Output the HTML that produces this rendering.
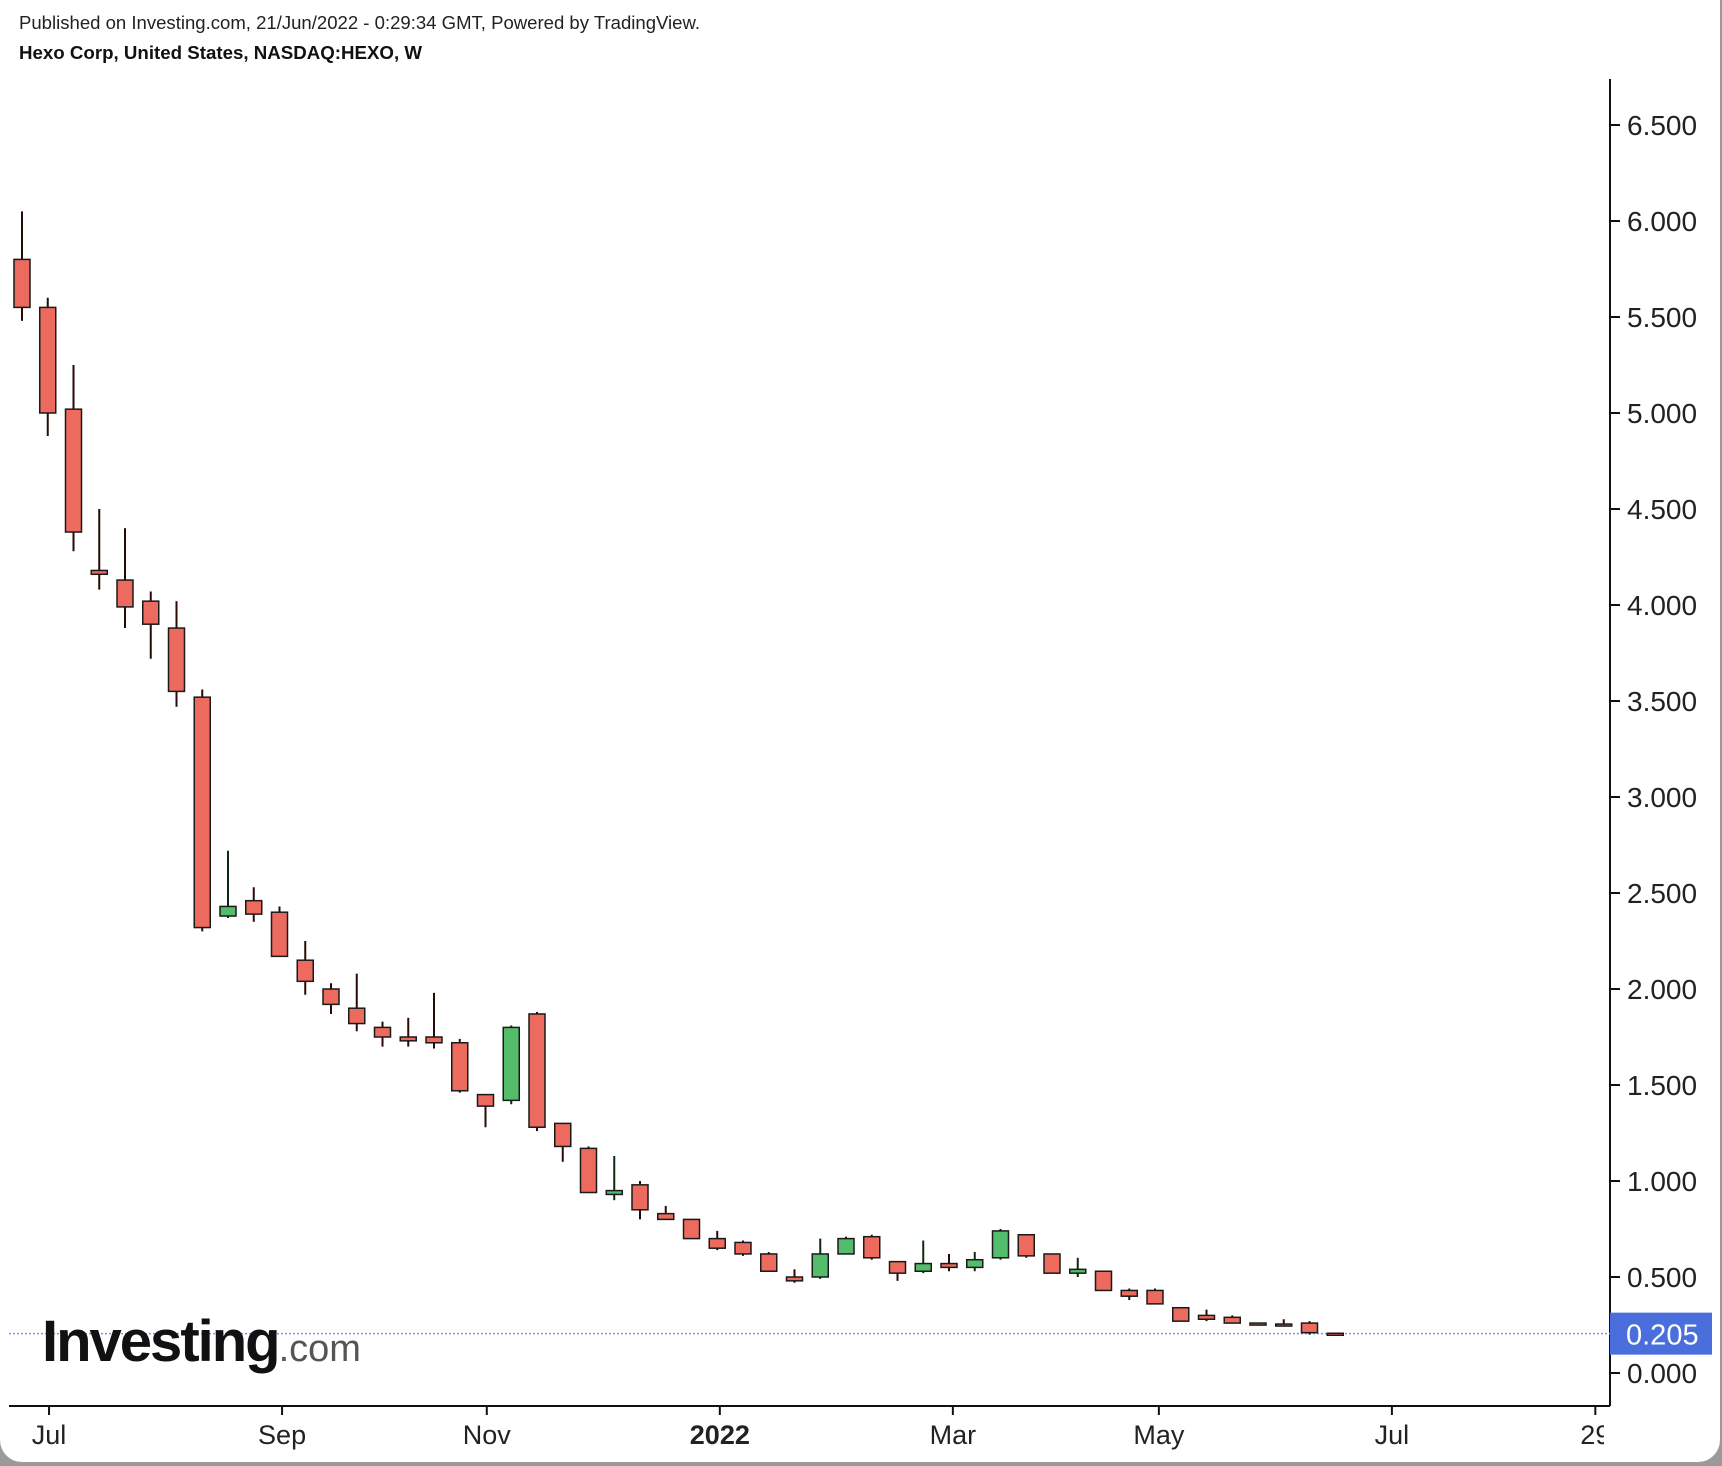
<!DOCTYPE html>
<html><head><meta charset="utf-8"><style>
html,body{margin:0;padding:0;background:#8a8a8a;}
#wrap{position:relative;width:1722px;height:1466px;overflow:hidden;background:#9a9a9a;}
#card{position:absolute;left:0;top:0;width:1720px;height:1462px;background:#fff;border-radius:0 0 22px 22px;}
svg text{font-family:"Liberation Sans",sans-serif;}
</style></head><body>
<div id="wrap">
<div id="card">
<svg id="chart" width="1722" height="1466">
<defs><clipPath id="xclip" clipPathUnits="userSpaceOnUse"><rect x="0" y="1406" width="1604" height="60"/></clipPath></defs>
<text x="19" y="29" font-size="18" fill="#222" textLength="681" lengthAdjust="spacingAndGlyphs">Published on Investing.com, 21/Jun/2022 - 0:29:34 GMT, Powered by TradingView.</text>
<text x="19" y="59" font-size="18" font-weight="bold" fill="#111" textLength="403" lengthAdjust="spacingAndGlyphs">Hexo Corp, United States, NASDAQ:HEXO, W</text>
<g id="marks"></g>
<g clip-path="url(#xclip)" id="xlabels"></g>
<text x="42" y="1361" font-size="58" font-weight="bold" fill="#111" letter-spacing="-2">Investing<tspan font-size="38" font-weight="normal" fill="#555" letter-spacing="0">.com</tspan></text>
</svg>
</div></div>
<script>
const tickValues=[0,0.5,1,1.5,2,2.5,3,3.5,4,4.5,5,5.5,6,6.5];
const tickLabels=["0.000","0.500","1.000","1.500","2.000","2.500","3.000","3.500","4.000","4.500","5.000","5.500","6.000","6.500"];
const monthLabels=["Jul","Sep","Nov","2022","Mar","May","Jul","29"];
const monthPos=[1.05,10.1,18.05,27.1,36.15,44.15,53.2,61.1];
const opens=[5.8,5.55,5.02,4.18,4.13,4.02,3.88,3.52,2.38,2.46,2.4,2.15,2.0,1.9,1.8,1.75,1.75,1.72,1.45,1.42,1.87,1.3,1.17,0.93,0.98,0.83,0.8,0.7,0.68,0.62,0.5,0.5,0.62,0.71,0.58,0.53,0.57,0.55,0.6,0.72,0.62,0.52,0.53,0.43,0.43,0.34,0.3,0.29,0.26,0.255,0.26,0.207];
const highs=[6.05,5.6,5.25,4.5,4.4,4.07,4.02,3.56,2.72,2.53,2.43,2.25,2.03,2.08,1.83,1.85,1.98,1.74,1.45,1.81,1.88,1.3,1.18,1.13,1.0,0.87,0.8,0.74,0.69,0.63,0.54,0.7,0.71,0.72,0.58,0.69,0.62,0.63,0.75,0.72,0.62,0.6,0.53,0.44,0.44,0.34,0.33,0.3,0.26,0.28,0.27,0.21];
const lows=[5.48,4.88,4.28,4.08,3.88,3.72,3.47,2.3,2.37,2.35,2.17,1.97,1.87,1.78,1.7,1.7,1.69,1.46,1.28,1.4,1.26,1.1,0.94,0.9,0.8,0.8,0.7,0.64,0.61,0.53,0.47,0.49,0.62,0.59,0.48,0.52,0.53,0.53,0.59,0.6,0.52,0.5,0.43,0.38,0.36,0.27,0.27,0.26,0.25,0.25,0.2,0.2];
const closes=[5.55,5.0,4.38,4.16,3.99,3.9,3.55,2.32,2.43,2.39,2.17,2.04,1.92,1.82,1.75,1.73,1.72,1.47,1.39,1.8,1.28,1.18,0.94,0.95,0.85,0.8,0.7,0.65,0.62,0.53,0.48,0.62,0.7,0.6,0.52,0.57,0.55,0.59,0.74,0.61,0.52,0.54,0.43,0.4,0.36,0.27,0.28,0.26,0.255,0.25,0.21,0.205];
const lastPrice=0.205;
const NS="http://www.w3.org/2000/svg";
const yS=v=>1373-192*v;
const xS=i=>22+25.75*i;
const g=document.getElementById('marks');
const xl=document.getElementById('xlabels');
function mk(t,a,p){const e=document.createElementNS(NS,t);for(const k in a)e.setAttribute(k,a[k]);(p||g).appendChild(e);return e;}
let e=mk('line',{x1:9,y1:1406,x2:1610,y2:1406,stroke:'#111','stroke-width':2});


e=mk('line',{x1:1610,y1:79,x2:1610,y2:1406,stroke:'#111','stroke-width':2});


tickValues.forEach((v,i)=>{
 const y=yS(v);
 let t=mk('line',{x1:1610,y1:y,x2:1620,y2:y,stroke:'#111','stroke-width':2});
 
 
 let l=mk('text',{x:1627,y:y+10,'font-size':28,fill:'#222'});l.textContent=tickLabels[i];
 
 
});
monthLabels.forEach((m,i)=>{
 const x=xS(monthPos[i]);
 let t=mk('line',{x1:x,y1:1406,x2:x,y2:1415,stroke:'#111','stroke-width':2});
 
 
 let l=mk('text',{x:x,y:1444,'font-size':27,fill:'#222','text-anchor':'middle','font-weight':m==='2022'?'bold':'normal'},xl);l.textContent=m;
 
 
});
const py=yS(lastPrice);
e=mk('line',{x1:9,y1:py,x2:1610,y2:py,stroke:'#7b93e8','stroke-width':1.5,'stroke-dasharray':'2,2'});


opens.forEach((o,i)=>{
 const c=closes[i],x=xS(i),up=c>=o;
 let w=mk('line',{x1:x,y1:yS(highs[i]),x2:x,y2:yS(lows[i]),stroke:up?'#0a2a10':'#2a0a06','stroke-width':2});
 
 
 const top=yS(Math.max(o,c)),h=Math.max(2,Math.abs(yS(o)-yS(c)));
 let b=mk('rect',{x:x-8,y:top,width:16,height:h,fill:up?'#53bd6b':'#ec6a5e',stroke:'#1a1a1a','stroke-width':1.5});
 
 
});
e=mk('rect',{x:1610,y:py-21,width:102,height:42,fill:'#4a6fdc'});


e=mk('text',{x:1626,y:py+11,'font-size':29,fill:'#fff'});e.textContent=lastPrice.toFixed(3);


</script>
</body></html>
